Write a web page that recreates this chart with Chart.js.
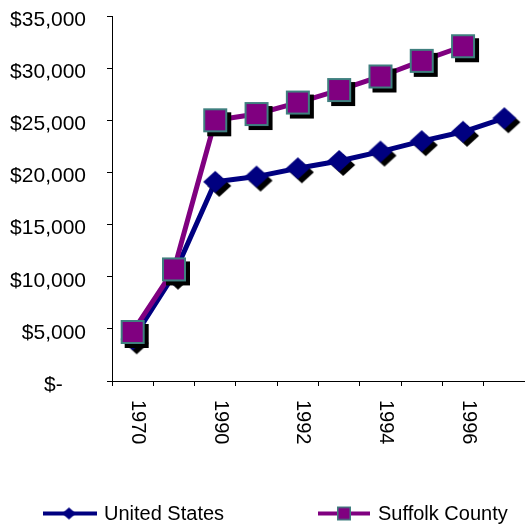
<!DOCTYPE html>
<html>
<head>
<meta charset="utf-8">
<script src="https://cdn.jsdelivr.net/npm/chart.js@4/dist/chart.umd.min.js"></script>
<style>
html,body{margin:0;padding:0;background:#ffffff;}
#wrap{width:525px;height:525px;}
</style>
</head>
<body>
<div id="wrap"><canvas id="c" width="525" height="525"></canvas></div>
<script>
// ---- data ----
const categories = ["1970", "1980", "1990", "1991", "1992", "1993", "1994", "1995", "1996", "1997"];
const xTickLabels = ["1970", "", "1990", "", "1992", "", "1994", "", "1996", ""];
const seriesNames = ["United States", "Suffolk County"];
const unitedStates = [4000, 10200, 19100, 19600, 20400, 21100, 22000, 23000, 23900, 25200];
const suffolkCounty = [4700, 10700, 25000, 25600, 26700, 27900, 29200, 30700, 32100, null];
const yTickLabels = ["$-", "$5,000", "$10,000", "$15,000", "$20,000", "$25,000", "$30,000", "$35,000"];

// ---- styles ----
const FONT = '"Liberation Sans", Arial, sans-serif';
const NAVY = '#000080';
const PURPLE = '#800080';
const TEAL = '#3f7f7f';

function diamondImage(hw, hh, shadowOff) {
  const s = 2 * (Math.max(hw, hh) + shadowOff) + 4;
  const c = document.createElement('canvas');
  c.width = s; c.height = s;
  const g = c.getContext('2d');
  const cx = s / 2, cy = s / 2;
  const poly = (x, y, col) => {
    g.beginPath();
    g.moveTo(x, y - hh); g.lineTo(x + hw, y); g.lineTo(x, y + hh); g.lineTo(x - hw, y);
    g.closePath(); g.fillStyle = col; g.fill();
  };
  if (shadowOff) poly(cx + shadowOff, cy + shadowOff, '#000');
  poly(cx, cy, NAVY);
  return c;
}
function squareImage(half, border, shadowOff) {
  const s = 2 * (half + shadowOff) + 4;
  const c = document.createElement('canvas');
  c.width = s; c.height = s;
  const g = c.getContext('2d');
  const cx = s / 2, cy = s / 2;
  if (shadowOff) { g.fillStyle = '#000'; g.fillRect(cx - half + shadowOff, cy - half + shadowOff, 2 * half, 2 * half); }
  g.fillStyle = TEAL; g.fillRect(cx - half, cy - half, 2 * half, 2 * half);
  g.fillStyle = PURPLE; g.fillRect(cx - half + border, cy - half + border, 2 * (half - border), 2 * (half - border));
  return c;
}

const usPoint = diamondImage(12, 11, 4);
const sfPoint = squareImage(12, 2, 4);
const usLegend = diamondImage(7, 6, 0);
const sfLegend = squareImage(7, 1.5, 0);

// x labels rotated clockwise + custom legend
const extras = {
  id: 'extras',
  afterDraw(chart) {
    const ctx = chart.ctx;
    const xs = chart.scales.x;
    ctx.save();
    ctx.fillStyle = '#000';
    ctx.font = '20px ' + FONT;
    xTickLabels.forEach((lab, i) => {
      if (!lab) return;
      const x = xs.getPixelForValue(i) + 5;
      ctx.save();
      ctx.translate(x, xs.top + 19);
      ctx.rotate(Math.PI / 2);
      ctx.textAlign = 'left';
      ctx.textBaseline = 'middle';
      ctx.fillText(lab, 0, 0);
      ctx.restore();
    });
    // legend
    const items = [
      {x0: 43, x1: 97, mx: 69, tx: 104, color: NAVY, img: usLegend, label: chart.data.datasets[0].label},
      {x0: 318, x1: 370, mx: 344, tx: 378, color: PURPLE, img: sfLegend, label: chart.data.datasets[1].label}
    ];
    const ly = 513.5;
    items.forEach(it => {
      ctx.strokeStyle = it.color;
      ctx.lineWidth = 4;
      ctx.beginPath(); ctx.moveTo(it.x0, ly); ctx.lineTo(it.x1, ly); ctx.stroke();
      ctx.drawImage(it.img, it.mx - it.img.width / 2, ly - it.img.height / 2);
      ctx.fillStyle = '#000';
      ctx.textAlign = 'left';
      ctx.textBaseline = 'middle';
      ctx.fillText(it.label, it.tx, ly + 1);
    });
    ctx.restore();
  }
};

new Chart(document.getElementById('c'), {
  type: 'line',
  data: {
    labels: categories,
    datasets: [
      {
        label: seriesNames[0], data: unitedStates,
        borderColor: NAVY, backgroundColor: NAVY, borderWidth: 5,
        pointStyle: usPoint, pointRadius: 12, tension: 0, order: 1, clip: false
      },
      {
        label: seriesNames[1], data: suffolkCounty,
        borderColor: PURPLE, backgroundColor: PURPLE, borderWidth: 5,
        pointStyle: sfPoint, pointRadius: 12, tension: 0, order: 0, clip: false
      }
    ]
  },
  options: {
    responsive: false,
    animation: false,
    devicePixelRatio: 1,
    layout: {autoPadding: false, padding: {top: 16, right: 0, bottom: 0, left: 0}},
    plugins: {legend: {display: false}, tooltip: {enabled: false}},
    scales: {
      x: {
        offset: true,
        grid: {offset: true, drawOnChartArea: false, drawTicks: true, tickLength: 5, color: '#000', lineWidth: 1},
        border: {display: true, color: '#000', width: 1},
        ticks: {display: false},
        afterFit(scale) { scale.height = 144; scale.paddingLeft = 0; scale.paddingRight = 0; }
      },
      y: {
        min: 0, max: 35000,
        grid: {drawOnChartArea: false, drawTicks: true, tickLength: 5, color: '#000', lineWidth: 1},
        border: {display: true, color: '#000', width: 1},
        ticks: {
          stepSize: 5000, color: '#000', padding: 21, labelOffset: 4,
          font: {family: FONT, size: 21},
          callback: (v, i) => {
            const t = yTickLabels[i];
            return t === '$-' ? t + '    ' : t;
          }
        },
        afterFit(scale) { scale.width = 112; scale.paddingTop = 0; scale.paddingBottom = 0; }
      }
    }
  },
  plugins: [extras]
});
</script>
</body>
</html>
